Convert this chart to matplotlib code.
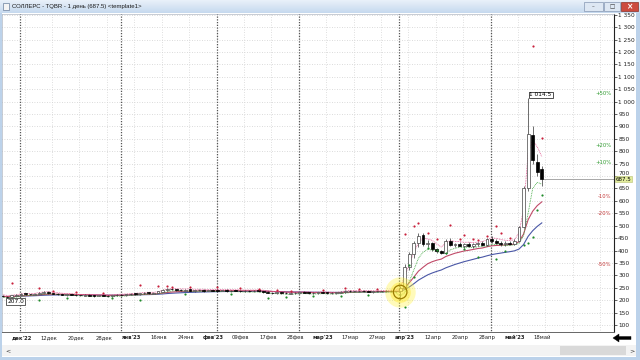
import numpy as np
import pandas as pd
import matplotlib
matplotlib.use('Agg')
import matplotlib.pyplot as plt
import matplotlib.transforms as mtransforms
from matplotlib.patches import Rectangle, Polygon
from matplotlib.colors import LinearSegmentedColormap
from matplotlib.ticker import FuncFormatter

# daily bars, 25 Nov 2022 .. 18 May 2023 (bar index 0..118)
opens = [218, 214, 212, 218,
         221, 227, 224, 222, 226, 229, 234, 228, 226, 224, 221, 224, 221, 220, 218, 222, 219, 216, 220, 218, 215, 221,
         222, 220, 224, 227, 224, 228, 231, 226, 229, 234, 242, 247, 243, 242, 239, 244, 237, 241, 242, 237, 241,
         240, 237, 242, 236, 240, 239, 235, 239, 236, 240, 237, 234, 230, 228, 232, 229, 226, 229,
         230, 233, 231, 227, 229, 232, 231, 227, 230, 229, 233, 239, 235, 236, 238, 237, 233, 236, 235, 237, 239, 235,
         236, 250, 335, 385, 430, 462, 428, 430, 405, 398, 390, 440, 422, 428, 420, 426, 418, 425, 430, 424,
         445, 440, 432, 425, 430, 428, 440, 495, 650, 865, 757, 728]
highs = [222, 216, 221, 224,
         229, 229, 226, 228, 234, 236, 235, 230, 228, 226, 225, 226, 223, 222, 223, 224, 221, 221, 222, 220, 222, 225,
         225, 226, 228, 229, 230, 233, 233, 231, 237, 244, 249, 249, 246, 244, 245, 246, 242, 244, 244, 242, 243,
         242, 243, 244, 241, 242, 241, 240, 241, 241, 242, 239, 236, 233, 233, 234, 231, 231, 233,
         234, 235, 233, 231, 233, 234, 233, 231, 232, 235, 241, 241, 238, 239, 240, 239, 237, 238, 239, 240, 241, 239,
         258, 345, 395, 440, 470, 470, 442, 436, 412, 402, 448, 450, 432, 436, 430, 434, 430, 436, 438, 450,
         458, 448, 440, 438, 440, 445, 500, 660, 1014.5, 900, 790, 740]
lows = [212, 207, 210, 215,
        219, 221, 220, 220, 224, 227, 226, 224, 221, 219, 218, 219, 218, 216, 217, 216, 214, 215, 216, 213, 213, 218,
        217, 218, 221, 221, 222, 226, 224, 224, 227, 232, 239, 241, 239, 237, 236, 235, 234, 237, 234, 235, 236,
        235, 235, 234, 233, 235, 233, 232, 233, 233, 233, 230, 227, 225, 225, 225, 223, 223, 226,
        227, 227, 225, 224, 226, 227, 225, 224, 226, 227, 230, 233, 231, 232, 233, 231, 230, 232, 232, 234, 233, 232,
        200, 245, 320, 370, 415, 418, 415, 400, 392, 385, 385, 418, 415, 418, 412, 415, 410, 418, 420, 418,
        432, 425, 420, 418, 422, 424, 435, 490, 640, 750, 700, 660]
closes = [215, 211, 219, 221,
          226, 224, 223, 226, 230, 233, 229, 226, 224, 222, 223, 221, 220, 219, 221, 218, 217, 219, 218, 216, 220, 222,
          221, 223, 226, 224, 228, 230, 227, 229, 235, 241, 246, 244, 242, 240, 243, 238, 240, 241, 238, 240, 239,
          238, 241, 237, 239, 238, 236, 238, 237, 239, 236, 233, 230, 229, 231, 228, 227, 229, 230,
          232, 230, 228, 229, 231, 230, 228, 229, 230, 233, 238, 236, 235, 237, 236, 234, 235, 236, 237, 238, 236, 237,
          248, 335, 385, 430, 460, 425, 432, 405, 398, 392, 440, 422, 428, 420, 426, 418, 425, 430, 424, 445,
          440, 430, 425, 432, 428, 440, 495, 650, 870, 765, 716, 687.5]

# indicator dots (bar index, price)
red_dot_idx = [2, 8, 11, 16, 22, 30, 34, 36, 37, 41, 47, 52, 56, 60, 63, 70, 75, 78, 82,
               88, 90, 91, 93, 95, 98, 100, 101, 103, 104, 106, 108, 109, 111, 116, 118]
red_dot_val = [268, 250, 238, 232, 229, 261, 258, 257, 254, 252, 254, 248, 246, 240, 238, 240, 248, 246, 245,
               465, 500, 511, 470, 445, 503, 445, 462, 448, 442, 460, 499, 471, 452, 1224, 853]
green_dot_idx = [1, 8, 14, 24, 30, 40, 50, 58, 62, 68, 74, 80,
                 88, 89, 90, 93, 95, 97, 101, 104, 108, 110, 114, 115, 116, 117, 118]
green_dot_val = [203, 200, 210, 208, 200, 226, 224, 208, 214, 216, 218, 222,
                 172, 342, 293, 410, 402, 390, 405, 374, 366, 400, 422, 430, 455, 563, 624]

month_starts = [4, 26, 47, 65, 87, 107]
tick_labels = ["дек'22", "12дек", "20дек", "28дек", "янв'23", "16янв", "24янв", "фев'23", "09фев", "17фев",
               "28фев", "мар'23", "17мар", "27мар", "апр'23", "12апр", "20апр", "28апр", "май'23", "18май"]
month_labels = ["дек'22", "янв'23", "фев'23", "мар'23", "апр'23", "май'23"]
pct_levels = [50, 20, 10, -10, -20, -50]

W, H = 640, 360


def fx(px):
    return px / W


def fy(py):
    return 1 - py / H


fig = plt.figure(figsize=(6.4, 3.6), dpi=100)
fig.patch.set_facecolor('white')

# window title bar
tb = fig.add_axes([0, fy(13), 1, 13 / H])
grad = LinearSegmentedColormap.from_list('tb', ['#e9f1fa', '#c6d9ee'])
tb.imshow(np.linspace(0, 1, 20).reshape(-1, 1), aspect='auto', cmap=grad, extent=[0, W, 13, 0])
tb.set_xlim(0, W)
tb.set_ylim(13, 0)
tb.axis('off')
tb.add_patch(Rectangle((3, 3), 6, 7, fc='#f4f4f4', ec='#6a7f9c', lw=0.5))
tb.text(12, 6.8, 'СОЛЛЕРС - TQBR - 1 день (687.5) <template1>', fontsize=4.3, va='center',
        color='#1a1a1a', family='Liberation Sans')
tb.add_patch(Rectangle((584, 2), 19, 9, fc='#dde7f3', ec='#8597b3', lw=0.5))
tb.add_patch(Rectangle((604, 2), 16, 9, fc='#dde7f3', ec='#8597b3', lw=0.5))
tb.add_patch(Rectangle((621, 2), 17, 9, fc='#cc4a3e', ec='#8a3028', lw=0.5))
tb.text(593.5, 7, '–', fontsize=4, ha='center', va='center', color='#333')
tb.text(612, 6.5, '□', fontsize=4, ha='center', va='center', color='#333')
tb.text(629.5, 6.5, '×', fontsize=5.5, ha='center', va='center', color='white', fontweight='bold')

# frame
for x0, y0, w, h in [(0, 13, 2, 347), (636, 13, 4, 347), (0, 357, 640, 3)]:
    fig.add_artist(Rectangle((fx(x0), fy(y0 + h)), w / W, h / H, transform=fig.transFigure,
                             fc='#bcd2ea', ec='none'))

# scrollbar
fig.add_artist(Rectangle((fx(2), fy(356)), 634 / W, 11 / H, transform=fig.transFigure, fc='#f3f3f3', ec='none'))
fig.add_artist(Rectangle((fx(560), fy(355)), 66 / W, 9 / H, transform=fig.transFigure, fc='#d9d9d9', ec='none'))
fig.text(fx(5), fy(350.5), '<', fontsize=4.5, va='center', color='#333')
fig.text(fx(629), fy(350.5), '>', fontsize=4.5, va='center', color='#333')
arrow = [(613, 338), (619, 334), (619, 336.5), (631, 336.5), (631, 339.5), (619, 339.5), (619, 342)]
fig.add_artist(Polygon([(fx(a), fy(b)) for a, b in arrow], closed=True, transform=fig.transFigure,
                       fc='black', ec='black', lw=0.3))

# chart
ax = fig.add_axes([fx(2), fy(332), (614 - 2) / W, (332 - 14) / H])
ax.set_xlim(-0.15, 133.8)
ax.set_ylim(71.8, 1353)

idx = np.arange(len(closes))
o = np.array(opens, dtype=float)
h = np.array(highs, dtype=float)
l = np.array(lows, dtype=float)
c = np.array(closes, dtype=float)

levels = np.arange(100, 1351, 50)
ax.hlines(levels, -1, 140, colors='#cfcfcf', linestyles=(0, (1, 2)), lw=0.6, zorder=0)
ax.vlines(np.arange(4.8, 134, 6), 0, 1400, colors='#d4d4d4', linestyles=(0, (1, 2)), lw=0.6, zorder=0)
ax.vlines(np.array(month_starts) - 0.2, 0, 1400, colors='#555555', linestyles=(0, (1, 1.2)), lw=0.9, zorder=0)

# moving averages / envelopes
cs = pd.Series(c)
ema_long = cs.ewm(span=26, adjust=False).mean()
ema_short = cs.ewm(span=13, adjust=False).mean()
upper = pd.Series(h).ewm(span=3, adjust=False).mean()
lower = pd.Series(l).ewm(span=3, adjust=False).mean()
ax.plot(idx, ema_long, color='#4a57a6', lw=0.8, zorder=2)
ax.plot(idx, ema_short, color='#c04a68', lw=0.8, zorder=2)
ax.plot(idx, upper, color='#e0508c', lw=0.6, ls=(0, (1, 1)), zorder=2)
ax.plot(idx, lower, color='#3aa63a', lw=0.6, ls=(0, (1, 1)), zorder=2)

# candles
ax.vlines(idx, l, h, color='#333333', lw=0.5, zorder=3)
up = c >= o
body = np.maximum(np.abs(c - o), 1.2)
ax.bar(idx[up], body[up], bottom=np.minimum(o, c)[up], width=0.62, color='white',
       edgecolor='#444444', lw=0.5, zorder=4)
ax.bar(idx[~up], body[~up], bottom=np.minimum(o, c)[~up], width=0.62, color='black',
       edgecolor='black', lw=0.5, zorder=4)

ax.scatter(red_dot_idx, red_dot_val, s=2.5, color='#c8203c', lw=0, zorder=5)
ax.scatter(green_dot_idx, green_dot_val, s=2.5, color='#1f8a2a', lw=0, zorder=5)

# highlighted bar
ax.scatter([87], [233], s=480, color='#fff23a', alpha=0.35, lw=0, zorder=6)
ax.scatter([87], [233], s=220, color='#ffe830', alpha=0.45, lw=0, zorder=6)
ax.scatter([87], [233], s=95, facecolor='none', edgecolor='#9c7c00', lw=0.9, zorder=7)

last = c[-1]
ax.hlines(last, idx[-1] + 0.3, 140, color='#9a9a9a', lw=0.6, zorder=2)

for p in pct_levels:
    col = '#2f9a2f' if p > 0 else '#c43a3a'
    ax.text(133.3, last * (1 + p / 100), f'{p:+d}%', fontsize=3.8, color=col, ha='right', va='center')

ax.text(115.3, 1017, '1 014.5', fontsize=4.2, ha='left', va='bottom', zorder=8,
        bbox=dict(boxstyle='square,pad=0.15', fc='white', ec='#333333', lw=0.6))
ax.text(1.0, 205, '207.0', fontsize=4.2, ha='left', va='top', zorder=8,
        bbox=dict(boxstyle='square,pad=0.15', fc='white', ec='#444444', lw=0.6))

# axes cosmetics
ax.yaxis.tick_right()
ax.set_yticks(levels)
ax.yaxis.set_major_formatter(FuncFormatter(lambda v, pos: f'{int(v):,}'.replace(',', ' ')))
ax.tick_params(axis='y', labelsize=4.2, length=2, width=0.5, pad=1, colors='#222222')
ax.set_xticks(np.arange(4.1, 120, 6)[:len(tick_labels)])
ax.set_xticklabels(tick_labels)
ax.tick_params(axis='x', labelsize=3.8, length=0, pad=2.5, colors='#222222')
for t in ax.get_xticklabels():
    if t.get_text() in month_labels:
        t.set_fontweight('bold')
for side in ['top', 'left']:
    ax.spines[side].set_color('#b0b8c4')
    ax.spines[side].set_linewidth(0.5)
ax.spines['right'].set_color('#222222')
ax.spines['right'].set_linewidth(0.8)
ax.spines['bottom'].set_color('#666666')
ax.spines['bottom'].set_linewidth(0.7)

# the 700 level sits just above the last-price tag: lift its label a little
fig.canvas.draw()
for t in ax.get_yticklabels():
    if t.get_text() == '700':
        t.set_transform(t.get_transform() + mtransforms.ScaledTranslation(0, 2.5 / 72, fig.dpi_scale_trans))

# last price tag on the price scale
trans = mtransforms.blended_transform_factory(ax.transAxes, ax.transData)
ax.text(1.003, last, '687.5', transform=trans, fontsize=4.0, ha='left', va='center', zorder=9,
        clip_on=False, bbox=dict(boxstyle='square,pad=0.1', fc='#e2ec9c', ec='#b7c072', lw=0.4))

fig.savefig('out.png', dpi=100)
